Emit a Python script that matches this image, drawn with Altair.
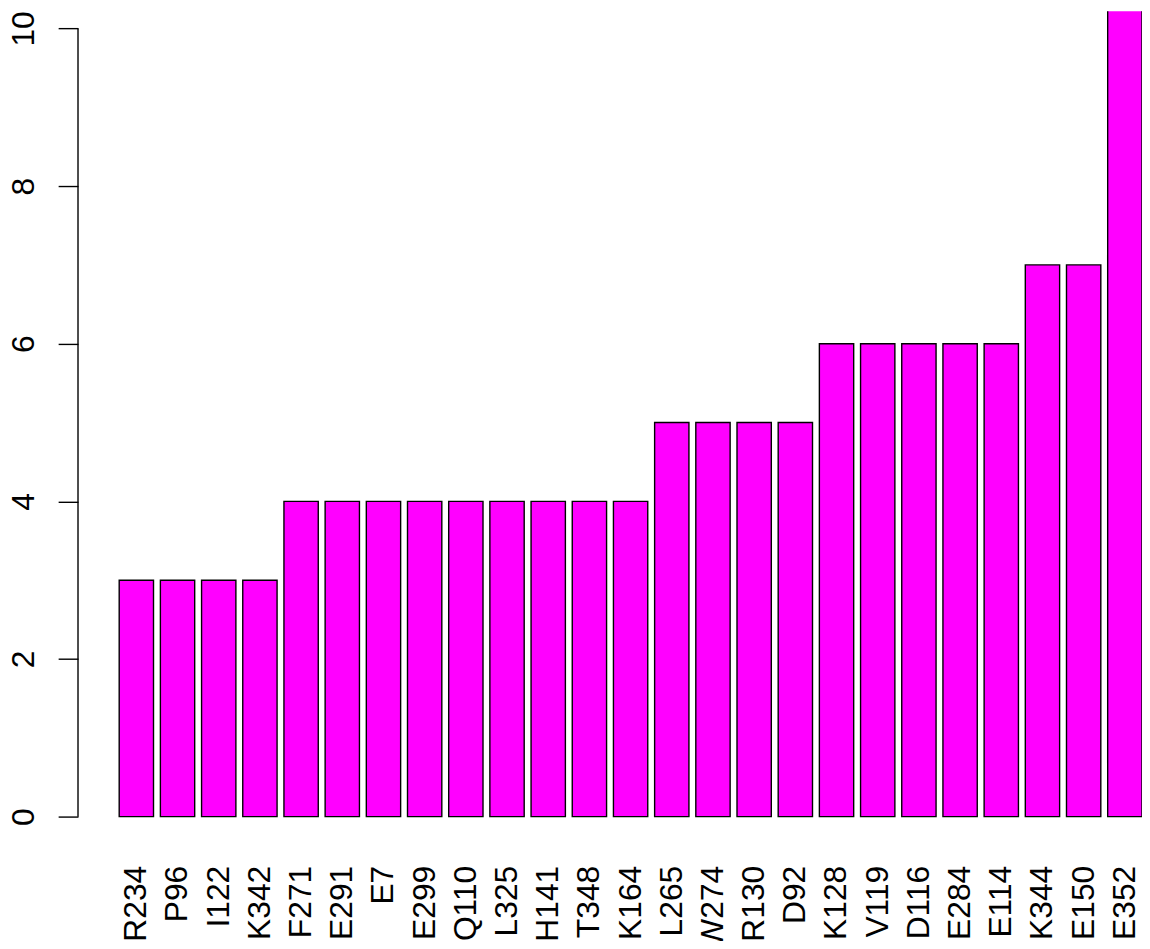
import altair as alt
import pandas as pd

residues = ["R234", "P96", "I122", "K342", "F271", "E291", "E7", "E299", "Q110",
            "L325", "H141", "T348", "K164", "L265", "W274", "R130", "D92",
            "K128", "V119", "D116", "E284", "E114", "K344", "E150", "E352"]
counts = [3, 3, 3, 3, 4, 4, 4, 4, 4, 4, 4, 4, 4, 5, 5, 5, 5, 6, 6, 6, 6, 6, 7, 7, 11]
y_ticks = [0, 2, 4, 6, 8, 10]

df = pd.DataFrame({"residue": residues, "count": counts})
axis_df = pd.DataFrame({"lo": [0], "hi": [10]})

FONT = "Liberation Sans"
FS = 32

yscale = alt.Scale(domain=[-0.44, 10.218], nice=False, zero=False)
xscale = alt.Scale(domain=residues, paddingInner=0.2 / 1.2, paddingOuter=0.5, align=1)

bars = alt.Chart(df).mark_bar(
    color="#FF00FF", stroke="black", strokeWidth=1.4, clip=True
).encode(
    x=alt.X("residue:N", sort=residues, scale=xscale,
            axis=alt.Axis(title=None, domain=False, ticks=False, labelAngle=270,
                          labelAlign="right", labelBaseline="middle",
                          labelPadding=14, labelFont=FONT, labelFontSize=FS,
                          labelColor="black", labelOverlap=False, labelLimit=300)),
    y=alt.Y("count:Q", scale=yscale,
            axis=alt.Axis(title=None, values=y_ticks, format="d", domain=False,
                          grid=False, ticks=True, tickSize=20, tickColor="black",
                          tickWidth=1.4, labelAngle=270, labelAlign="center",
                          labelBaseline="alphabetic", labelPadding=25,
                          labelFont=FONT, labelFontSize=FS, labelColor="black",
                          labelOverlap=False, labelFlush=False)),
    y2=alt.datum(0),
)

axis_line = alt.Chart(axis_df).mark_rule(color="black", strokeWidth=1.4).encode(
    x=alt.value(0),
    y=alt.Y("lo:Q", scale=yscale),
    y2="hi:Q",
)

chart = alt.layer(bars, axis_line).properties(
    width=1071.5, height=846,
    padding={"left": 70.5, "top": 0, "right": 0, "bottom": 87},
    autosize=alt.AutoSizeParams(type="none"),
    background="white",
).configure_view(stroke=None)

chart.save("out.html", embed_options={"renderer": "svg", "actions": False})
